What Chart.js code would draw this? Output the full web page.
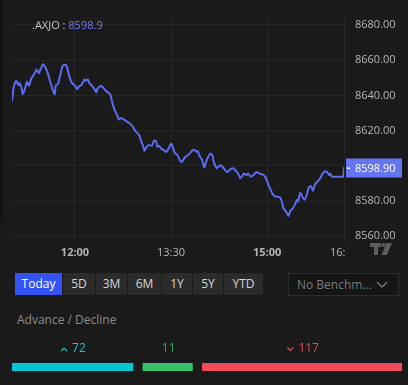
<!DOCTYPE html>
<html><head><meta charset="utf-8">
<script src="https://cdn.jsdelivr.net/npm/chart.js@4.4.1/dist/chart.umd.min.js"></script>
<style>
html,body{margin:0;padding:0;background:#1a1a1a;width:408px;height:385px;overflow:hidden;font-family:"Open Sans",sans-serif;}
#main{position:absolute;left:0;top:0;width:408px;height:265px;}
#strip{position:absolute;left:0;top:0;width:3px;height:222px;background:#121212;}
#sym{position:absolute;left:32px;top:17px;font-size:11px;color:#c4c4c4;white-space:nowrap;}
#sym span{color:#6d7bf4;}
#tabs{position:absolute;left:15px;top:273px;height:22px;display:flex;}
.tab{height:22px;line-height:22px;text-align:center;font-size:12px;color:#d6d6d6;background:#2b2b2b;border-right:1px solid #1a1a1a;box-sizing:border-box;}
.tab.on{background:#3353f5;color:#fff;}
#bench{position:absolute;left:288px;top:273px;width:111px;height:23px;box-sizing:border-box;border:1px solid #2c2c2c;background:#151515;color:#7a7a7a;font-size:12px;line-height:21px;padding-left:8px;white-space:nowrap;}
#bench svg{position:absolute;right:10px;top:7px;}
#ad{position:absolute;left:17px;top:311px;font-size:12px;color:#8c8c8c;white-space:nowrap;}
#adbar{position:absolute;left:12px;top:340px;width:390px;height:40px;}
</style></head><body>
<div id="main"><canvas id="c1"></canvas></div>
<div id="strip"></div>
<div id="sym"></div>
<div id="tabs"></div>
<div id="bench">No Benchm...<svg width="12" height="8" viewBox="0 0 12 8"><polyline points="1,1 6,6 11,1" fill="none" stroke="#7a7a7a" stroke-width="1.3"/></svg></div>
<div id="ad">Advance / Decline</div>
<div id="adbar"><canvas id="c2"></canvas></div>
<script>
// ---- data ----
const SYMBOL = ".AXJO";
const LAST_PRICE = 8598.9;
const TIMES = [
 "11:01","11:02","11:03","11:05","11:07","11:08","11:10","11:11","11:13","11:15",
 "11:17","11:19","11:22","11:24","11:26","11:28","11:30","11:32","11:34","11:37",
 "11:39","11:41","11:42","11:44","11:46","11:48","11:50","11:52","11:54","11:56",
 "11:58","12:00","12:02","12:04","12:06","12:09","12:10","12:12","12:14","12:16",
 "12:18","12:20","12:21","12:24","12:26","12:29","12:31","12:33","12:35","12:37",
 "12:39","12:41","12:43","12:46","12:48","12:51","12:54","12:56","12:58","13:00",
 "13:02","13:04","13:05","13:07","13:09","13:12","13:14","13:16","13:17","13:19",
 "13:21","13:23","13:25","13:27","13:30","13:31","13:33","13:34","13:36","13:38",
 "13:40","13:43","13:45","13:48","13:50","13:52","13:54","13:55","13:57","13:59",
 "14:01","14:03","14:05","14:07","14:09","14:10","14:13","14:16","14:18","14:21",
 "14:23","14:26","14:29","14:30","14:32","14:35","14:37","14:38","14:41","14:42",
 "14:45","14:47","14:50","14:53","14:56","14:59","15:01","15:03","15:05","15:07",
 "15:09","15:12","15:14","15:15","15:17","15:19","15:20","15:22","15:24","15:26",
 "15:28","15:29","15:31","15:33","15:35","15:37","15:39","15:41","15:43","15:45",
 "15:48","15:50","15:52","15:54","15:56","15:58","15:59","16:01","16:04","16:08",
 "16:11","16:12"];
const PRICES = [
 8637.2,8642.1,8645.6,8648.3,8645.9,8647.0,8644.2,8640.7,8643.5,8647.7,
 8645.6,8649.5,8652.3,8654.7,8652.6,8655.3,8657.7,8656.2,8653.5,8647.4,
 8643.5,8640.7,8645.6,8646.5,8650.9,8656.2,8657.4,8657.0,8652.6,8648.3,
 8646.5,8645.6,8643.5,8645.3,8645.9,8649.1,8648.3,8649.1,8646.5,8645.6,
 8643.8,8641.7,8643.8,8645.3,8644.7,8642.5,8641.7,8640.7,8635.9,8631.9,
 8629.5,8626.3,8627.2,8626.3,8625.4,8624.2,8622.5,8620.2,8618.9,8617.5,
 8614.1,8610.9,8608.4,8610.5,8611.9,8611.4,8614.4,8614.1,8610.9,8611.4,
 8609.6,8609.1,8607.9,8609.1,8612.6,8611.9,8607.9,8607.0,8606.2,8603.5,
 8602.1,8604.9,8605.6,8607.4,8608.8,8609.1,8607.9,8608.4,8605.3,8603.5,
 8599.1,8602.6,8605.3,8607.0,8605.6,8602.1,8598.6,8600.4,8599.6,8597.4,
 8596.5,8598.3,8598.6,8597.4,8596.5,8593.0,8594.4,8595.6,8594.7,8595.6,
 8593.8,8594.7,8596.5,8595.6,8595.1,8593.0,8589.5,8586.8,8584.2,8582.8,
 8582.5,8582.1,8579.3,8576.3,8574.6,8572.8,8571.6,8574.6,8575.8,8578.1,
 8580.7,8579.8,8584.6,8582.5,8580.7,8583.3,8587.7,8588.6,8585.9,8589.8,
 8591.6,8593.3,8595.6,8596.8,8596.5,8594.7,8595.6,8593.8,8593.8,8593.8,
 8593.8,8598.9];
const Y_TICKS = [8560, 8580, 8600, 8620, 8640, 8660, 8680];
const X_TICKS = ["12:00", "13:30", "15:00"];
const RANGES = ["Today", "5D", "3M", "6M", "1Y", "5Y", "YTD"];
const AD_LABELS = ["Advance", "Unchanged", "Decline"];
const AD_COUNTS = [72, 11, 117];

// ---- style constants ----
const BG = "#1a1a1a", GRID = "#272727", LINE = "#5b6cf2", BOX = "#6474f3", TXT = "#b5b5b5";
const FONT = '"Open Sans", sans-serif';
const TAB_W = [48, 33, 32, 34, 31, 31, 40];
const AD_COLORS = ["#00c8d2", "#38c06c", "#f04b5d"];
const AD_TEXT = ["#1fc2c9", "#2fab55", "#ea4a5c"];
const MIN_FLAT_WEIGHT = 34;

const toMin = s => { const [h, m] = s.split(":").map(Number); return h * 60 + m; };
const fmt = v => String(Math.floor(v / 60)).padStart(2, "0") + ":" + String(v % 60).padStart(2, "0");

document.getElementById("sym").innerHTML = SYMBOL + " : <span>" + LAST_PRICE.toFixed(1) + "</span>";
const tabs = document.getElementById("tabs");
RANGES.forEach((r, i) => {
  const d = document.createElement("div");
  d.className = "tab" + (i === 0 ? " on" : "");
  d.style.width = TAB_W[i] + "px";
  d.textContent = r;
  tabs.appendChild(d);
});

const pts = TIMES.map((t, i) => ({ x: toMin(t), y: PRICES[i] }));
const xMin = pts[0].x, xMax = pts[pts.length - 1].x;

const overlay = {
  id: "overlay",
  afterDraw(chart) {
    const ctx = chart.ctx, y = chart.scales.y;
    const py = Math.round(y.getPixelForValue(LAST_PRICE));
    // clip last time label at the price-axis edge
    ctx.save();
    ctx.fillStyle = BG;
    ctx.fillRect(chart.chartArea.right + 1, chart.chartArea.bottom + 2, 25, 23);
    // last-price box
    ctx.fillStyle = BOX;
    ctx.fillRect(chart.chartArea.right + 2, py - 9.5, 56, 19);
    ctx.fillStyle = "#ffffff";
    ctx.fillRect(chart.chartArea.right + 3, py - 0.5, 3, 1.5);
    ctx.font = "11px " + FONT;
    ctx.textBaseline = "middle";
    ctx.fillText(LAST_PRICE.toFixed(2), chart.chartArea.right + 11, py + 0.5);
    // TradingView mark
    ctx.fillStyle = "#5e5e5e";
    ctx.fillRect(370, 243, 11, 4);
    ctx.fillRect(374, 243, 4, 12);
    ctx.beginPath(); ctx.arc(383.5, 245, 2, 0, Math.PI * 2); ctx.fill();
    ctx.beginPath();
    ctx.moveTo(386.5, 243); ctx.lineTo(392, 243); ctx.lineTo(387, 255); ctx.lineTo(381.5, 255);
    ctx.closePath(); ctx.fill();
    ctx.restore();
  }
};

new Chart(document.getElementById("c1"), {
  type: "line",
  data: { datasets: [{ data: pts, borderColor: LINE, borderWidth: 2, pointRadius: 0,
    tension: 0.15, borderJoinStyle: "round", borderCapStyle: "round" }] },
  options: {
    responsive: true, maintainAspectRatio: false, animation: false, events: [],
    layout: { padding: { left: 12, top: 0, right: 0, bottom: 0 } },
    plugins: { legend: { display: false }, tooltip: { enabled: false } },
    scales: {
      x: {
        type: "linear", min: xMin, max: xMax,
        afterBuildTicks: s => { s.ticks = X_TICKS.map(toMin).concat([xMax]).map(v => ({ value: v })); },
        afterFit: s => { s.height = 25; },
        grid: { color: GRID, drawTicks: false },
        border: { display: false },
        ticks: {
          autoSkip: false, maxRotation: 0, padding: 6, color: TXT,
          callback: v => fmt(v),
          font: c => ({ family: FONT, size: 11, weight: (c.tick && c.tick.value % 60 === 0) ? "bold" : "normal" })
        }
      },
      y: {
        position: "right", min: 8557.9, max: 8684.2,
        afterBuildTicks: s => { s.ticks = Y_TICKS.map(v => ({ value: v })); },
        afterFit: s => { s.width = 64; },
        grid: { color: GRID, drawTicks: false },
        border: { display: true, color: GRID },
        ticks: { padding: 11, color: TXT, font: { family: FONT, size: 11 }, callback: v => v.toFixed(2) }
      }
    }
  },
  plugins: [overlay]
});

// ---- advance / decline bar ----
const shown = AD_COUNTS.map((v, i) => i === 1 ? Math.max(v, MIN_FLAT_WEIGHT) : v);
const total = shown.reduce((a, b) => a + b, 0);
const GAP = 5;
const adLabels = {
  id: "adLabels",
  afterDatasetsDraw(chart) {
    const ctx = chart.ctx;
    ctx.save();
    ctx.font = "12px " + FONT;
    ctx.textBaseline = "middle";
    chart.data.datasets.forEach((ds, i) => {
      const el = chart.getDatasetMeta(i).data[0];
      const p = el.getProps(["x", "base", "y"], true);
      const l = p.base + (i > 0 ? GAP : 0), r = p.x - (i < 2 ? GAP : 0);
      const cx = (l + r) / 2 + 1;
      const txt = String(AD_COUNTS[i]);
      const tw = ctx.measureText(txt).width;
      const arrow = i !== 1;
      const w = tw + (arrow ? 11 : 0);
      let x0 = cx - w / 2;
      const ty = p.y - 18;
      ctx.fillStyle = AD_TEXT[i]; ctx.strokeStyle = AD_TEXT[i]; ctx.lineWidth = 1.2;
      if (arrow) {
        ctx.beginPath();
        if (i === 0) { ctx.moveTo(x0, ty + 2); ctx.lineTo(x0 + 3, ty - 1); ctx.lineTo(x0 + 6, ty + 2); }
        else { ctx.moveTo(x0, ty - 1.5); ctx.lineTo(x0 + 3, ty + 1.5); ctx.lineTo(x0 + 6, ty - 1.5); }
        ctx.stroke();
        x0 += 11;
      }
      ctx.fillText(txt, x0, ty);
    });
    ctx.restore();
  }
};
new Chart(document.getElementById("c2"), {
  type: "bar",
  data: {
    labels: ["A/D"],
    datasets: AD_LABELS.map((lab, i) => ({
      label: lab, data: [shown[i]], backgroundColor: AD_COLORS[i], borderColor: BG,
      borderWidth: { left: i > 0 ? GAP : 0, right: i < 2 ? GAP : 0, top: 0, bottom: 0 },
      borderSkipped: false, barPercentage: 1, categoryPercentage: 1
    }))
  },
  options: {
    indexAxis: "y", responsive: true, maintainAspectRatio: false, animation: false, events: [],
    layout: { padding: { top: 23, bottom: 9, left: 0, right: 0 } },
    plugins: { legend: { display: false }, tooltip: { enabled: false } },
    scales: {
      x: { stacked: true, display: false, min: 0, max: total },
      y: { stacked: true, display: false }
    }
  },
  plugins: [adLabels]
});
</script>
</body></html>
